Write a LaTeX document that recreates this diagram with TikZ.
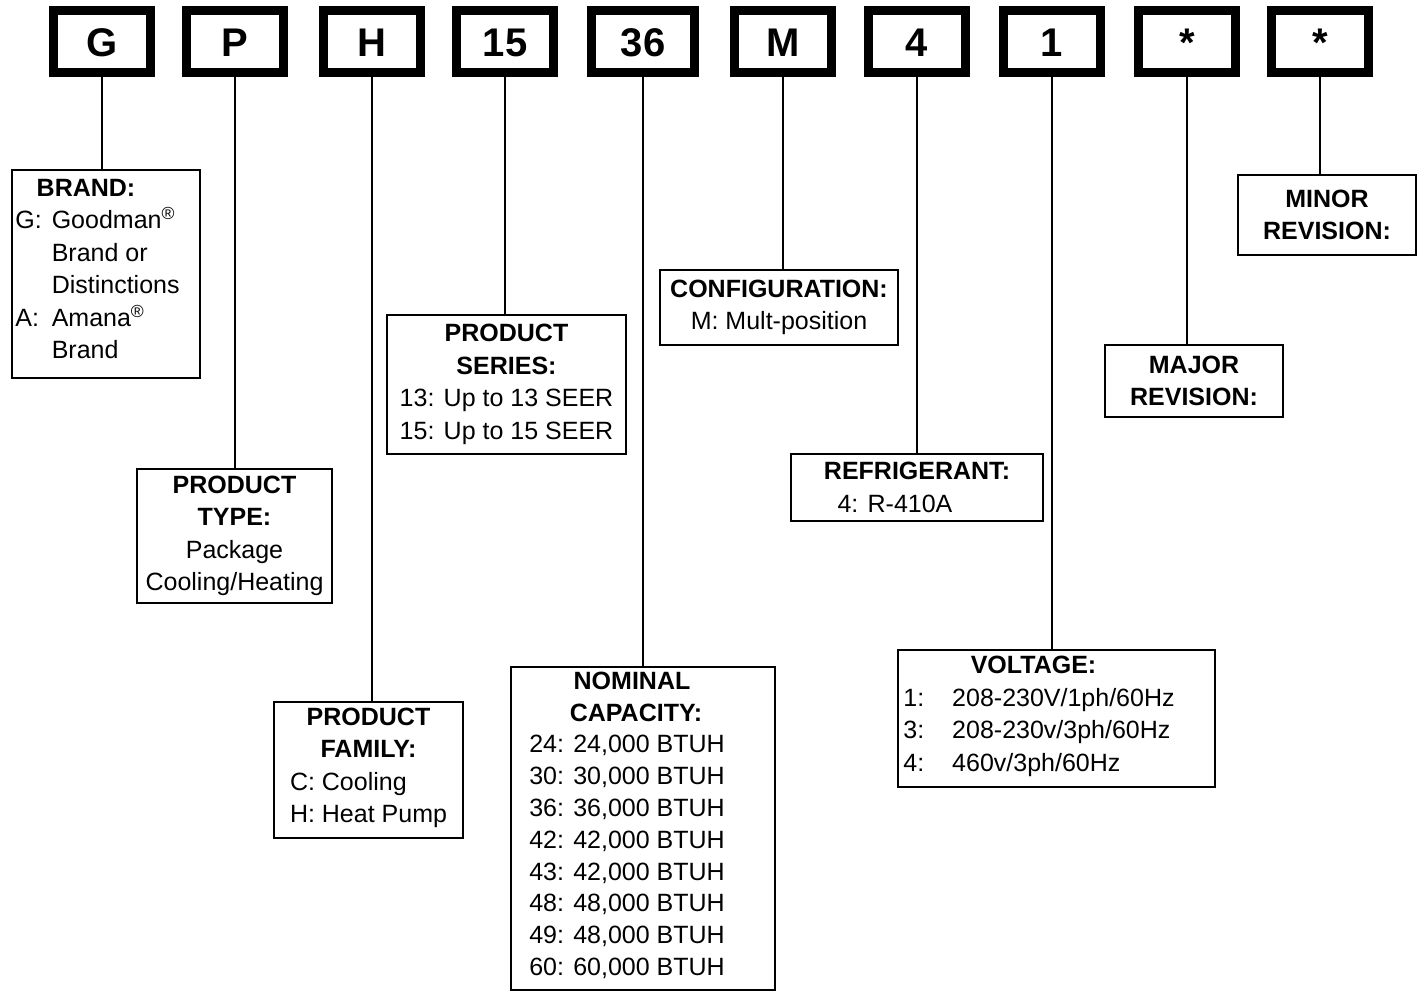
\documentclass[tikz,border=0pt]{standalone}
\usepackage{fontspec}
\setmainfont{Liberation Sans}
\begin{document}
\begin{tikzpicture}[x=1pt,y=-1pt,
  codebox/.style={draw,line width=9pt,minimum width=97,minimum height=62,inner sep=0,
    font=\fontsize{40}{48}\selectfont\bfseries,text height=29pt,text depth=0pt},
  infobox/.style={draw,line width=2pt,anchor=north west,align=center,inner sep=0,
    font=\fontsize{25}{32.5}\selectfont},
  link/.style={line width=2pt}]

\useasboundingbox (0,0) rectangle (1426,991);

% code boxes

\node[codebox] (cG) at (102,41.5) {G};
\node[codebox] (cP) at (235,41.5) {P};
\node[codebox] (cH) at (372,41.5) {H};
\node[codebox] (c15) at (505,41.5) {15};
\node[codebox,minimum width=103] (c36) at (643,41.5) {36};
\node[codebox] (cM) at (783,41.5) {M};
\node[codebox] (c4) at (917,41.5) {4};
\node[codebox] (c1) at (1052,41.5) {1};
\node[codebox] (cmaj) at (1187,41.5) {*};
\node[codebox] (cmin) at (1320,41.5) {*};

% description boxes

\node[infobox,minimum width=188,minimum height=208] (brand) at (11,169)
  {\mbox{\textbf{BRAND:}\hspace{40pt}}\\
   \mbox{\begin{tabular}[t]{@{}l@{\hspace{10pt}}l@{}}
   G: & Goodman\textsuperscript{\textregistered}\\
      & Brand or\\
      & Distinctions\\
   A: & Amana\textsuperscript{\textregistered}\\
      & Brand
   \end{tabular}\hspace{17pt}}};

\node[infobox,minimum width=195,minimum height=134] (type) at (136,468)
  {\textbf{PRODUCT}\\ \textbf{TYPE:}\\ Package\\ Cooling/Heating};

\node[infobox,minimum width=189,minimum height=136] (family) at (273,701)
  {\textbf{PRODUCT}\\ \textbf{FAMILY:}\\
   \begin{tabular}[t]{@{}l@{}}C: Cooling\\ H: Heat Pump\end{tabular}};

\node[infobox,minimum width=239,minimum height=139] (series) at (386,314)
  {\textbf{PRODUCT}\\ \textbf{SERIES:}\\ 13: Up to 13 SEER\\ 15: Up to 15 SEER};

\node[infobox,minimum width=264,minimum height=323,font=\fontsize{25}{31.8}\selectfont] (capacity) at (510,666)
  {\mbox{\textbf{NOMINAL}\hspace{22pt}}\\
   \mbox{\textbf{CAPACITY:}\hspace{14pt}}\\
   \mbox{\begin{tabular}[t]{@{}l@{}}
   24: 24,000 BTUH\\ 30: 30,000 BTUH\\ 36: 36,000 BTUH\\ 42: 42,000 BTUH\\
   43: 42,000 BTUH\\ 48: 48,000 BTUH\\ 49: 48,000 BTUH\\ 60: 60,000 BTUH
   \end{tabular}\hspace{32pt}}};

\node[infobox,minimum width=238,minimum height=75] (config) at (659,269)
  {\textbf{CONFIGURATION:}\\ M: Mult-position};

\node[infobox,minimum width=252,minimum height=67] (refrig) at (790,453)
  {\textbf{REFRIGERANT:}\\ \mbox{4: R-410A\hspace{44pt}}};

\node[infobox,minimum width=317,minimum height=137] (voltage) at (897,649)
  {\mbox{\textbf{VOLTAGE:}\hspace{46pt}}\\
   \mbox{\begin{tabular}[t]{@{}l@{\hspace{28pt}}l@{}}
   1: & 208-230V/1ph/60Hz\\
   3: & 208-230v/3ph/60Hz\\
   4: & 460v/3ph/60Hz
   \end{tabular}\hspace{35pt}}};

\node[infobox,minimum width=178,minimum height=72] (major) at (1104,344)
  {\textbf{MAJOR}\\ \textbf{REVISION:}};

\node[infobox,minimum width=178,minimum height=80] (minor) at (1237,174)
  {\textbf{MINOR}\\ \textbf{REVISION:}};

% lines

\draw[link] (cG.south) -- (cG.south |- brand.north);
\draw[link] (cP.south) -- (cP.south |- type.north);
\draw[link] (cH.south) -- (cH.south |- family.north);
\draw[link] (c15.south) -- (c15.south |- series.north);
\draw[link] (c36.south) -- (c36.south |- capacity.north);
\draw[link] (cM.south) -- (cM.south |- config.north);
\draw[link] (c4.south) -- (c4.south |- refrig.north);
\draw[link] (c1.south) -- (c1.south |- voltage.north);
\draw[link] (cmaj.south) -- (cmaj.south |- major.north);
\draw[link] (cmin.south) -- (cmin.south |- minor.north);
\end{tikzpicture}
\end{document}
